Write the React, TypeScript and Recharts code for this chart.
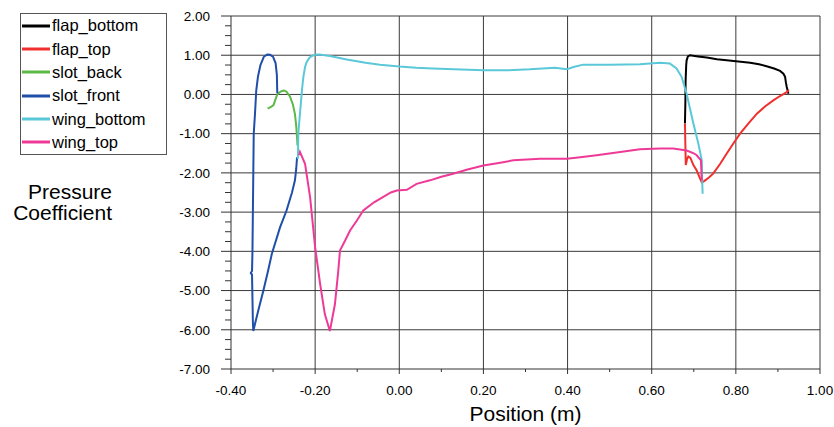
import React from 'react';
import { LineChart, Line, XAxis, YAxis, CartesianGrid, Legend } from 'recharts';

// ---- Axis ticks ----
const xMajorTicks = [-0.4, -0.2, 0, 0.2, 0.4, 0.6, 0.8, 1.0];
const xMinorTicks = [-0.3, -0.1, 0.1, 0.3, 0.5, 0.7, 0.9];
const yMajorTicks = [-7, -6, -5, -4, -3, -2, -1, 0, 1, 2];
const yMinorTicks = yMajorTicks.slice(0, -1).flatMap((v) => [v + 0.25, v + 0.5, v + 0.75]);
const xGridValues = [-0.2, 0, 0.2, 0.4, 0.6, 0.8, 1.0];
const yGridValues = [-6, -5, -4, -3, -2, -1, 0, 1, 2];

// ---- Series data: [position (m), pressure coefficient] ----
const flapBottom: [number, number][] = [
  [0.679, -0.74], [0.68, -0.2], [0.6806, 0.36], [0.682, 0.75], [0.683, 0.87], [0.686, 0.97],
  [0.691, 1.0], [0.71, 0.97], [0.731, 0.94], [0.755, 0.9], [0.778, 0.87], [0.806, 0.84],
  [0.834, 0.81], [0.855, 0.77], [0.873, 0.72], [0.891, 0.66], [0.905, 0.6], [0.913, 0.53],
  [0.917, 0.45], [0.919, 0.3], [0.921, 0.19], [0.925, 0.02],
];
const flapTop: [number, number][] = [
  [0.679, -0.74], [0.68, -1.3], [0.681, -1.8], [0.684, -1.65], [0.687, -1.58], [0.692, -1.62],
  [0.699, -1.8], [0.707, -1.94], [0.714, -2.12], [0.719, -2.24], [0.723, -2.22], [0.727, -2.19],
  [0.736, -2.12], [0.746, -2.02], [0.762, -1.78], [0.778, -1.51], [0.794, -1.25], [0.81, -1.0],
  [0.83, -0.74], [0.85, -0.49], [0.87, -0.3], [0.889, -0.15], [0.905, -0.04], [0.921, 0.06],
  [0.926, 0.11],
];
const slotBack: [number, number][] = [
  [-0.313, -0.36], [-0.305, -0.32], [-0.299, -0.27], [-0.294, -0.12], [-0.29, 0.0],
  [-0.285, 0.05], [-0.279, 0.09], [-0.274, 0.1], [-0.268, 0.07], [-0.26, -0.05],
  [-0.253, -0.25], [-0.248, -0.5], [-0.245, -0.8], [-0.243, -1.1], [-0.242, -1.3],
];
const slotFront: [number, number][] = [
  [-0.29, 0.03], [-0.291, 0.5], [-0.294, 0.8], [-0.3, 0.96], [-0.307, 1.01], [-0.314, 1.02],
  [-0.322, 0.96], [-0.33, 0.75], [-0.336, 0.45], [-0.34, 0.1], [-0.343, -0.5], [-0.346, -1.0],
  [-0.347, -2.0], [-0.348, -3.0], [-0.349, -4.0], [-0.35, -4.5], [-0.353, -4.55], [-0.35, -4.6],
  [-0.349, -5.2], [-0.348, -5.8], [-0.347, -6.03], [-0.343, -5.85], [-0.335, -5.5],
  [-0.323, -5.0], [-0.312, -4.5], [-0.303, -4.07], [-0.2835, -3.39], [-0.268, -2.96],
  [-0.255, -2.5], [-0.248, -2.19], [-0.245, -1.9], [-0.243, -1.6],
];
const wingBottom: [number, number][] = [
  [-0.241, -1.64], [-0.24, -1.0], [-0.237, -0.6], [-0.234, -0.23], [-0.231, 0.15], [-0.228, 0.45],
  [-0.224, 0.7], [-0.22, 0.83], [-0.214, 0.93], [-0.208, 0.98], [-0.2, 1.01], [-0.19, 1.02],
  [-0.165, 0.98], [-0.125, 0.89], [-0.08, 0.81], [-0.046, 0.76], [0.0, 0.71], [0.04, 0.68],
  [0.08, 0.66], [0.13, 0.64], [0.2, 0.62], [0.26, 0.62], [0.31, 0.64], [0.37, 0.68],
  [0.398, 0.64], [0.414, 0.7], [0.437, 0.76], [0.5, 0.76], [0.572, 0.77], [0.62, 0.81],
  [0.643, 0.79], [0.659, 0.66], [0.671, 0.45], [0.683, 0.02], [0.699, -0.74], [0.711, -1.26],
  [0.719, -1.68], [0.72, -2.2], [0.721, -2.53],
];
const wingTop: [number, number][] = [
  [-0.238, -1.55], [-0.236, -1.47], [-0.224, -1.77], [-0.212, -2.62], [-0.2, -3.9],
  [-0.188, -4.84], [-0.177, -5.6], [-0.165, -6.03], [-0.153, -5.35], [-0.145, -4.5],
  [-0.141, -3.98], [-0.129, -3.73], [-0.117, -3.47], [-0.1, -3.2], [-0.0855, -2.96],
  [-0.06, -2.75], [-0.046, -2.66], [-0.02, -2.5], [-0.006, -2.45], [0.018, -2.43],
  [0.041, -2.28], [0.073, -2.19], [0.1, -2.1], [0.128, -2.02], [0.16, -1.92], [0.2, -1.81],
  [0.24, -1.74], [0.271, -1.68], [0.335, -1.64], [0.398, -1.64], [0.43, -1.6], [0.469, -1.55],
  [0.525, -1.47], [0.572, -1.4], [0.62, -1.38], [0.651, -1.38], [0.683, -1.43], [0.7, -1.5],
  [0.707, -1.55], [0.717, -1.68], [0.719, -2.19],
];

const seriesNames = ['flap_bottom', 'flap_top', 'slot_back', 'slot_front', 'wing_bottom', 'wing_top'];
const seriesColors = ['#000000', '#f0302e', '#5cb946', '#1f4fa8', '#5ac8d8', '#ee3a96'];
const seriesData = [flapBottom, flapTop, slotBack, slotFront, wingBottom, wingTop];

const FONT = '"Liberation Sans", Arial, Helvetica, sans-serif';
const AXIS_COLOR = '#333';

const isMajor = (list: number[], v: number) => list.some((m) => Math.abs(m - v) < 1e-9);

const XTick = (props: any) => {
  const { x, y, payload } = props;
  const v = payload.value as number;
  const major = isMajor(xMajorTicks, v);
  return (
    <g>
      <line x1={x} x2={x} y1={y} y2={y + (major ? 5 : 3)} stroke={AXIS_COLOR} strokeWidth={1} />
      {major && (
        <text x={x} y={y + 21} dy="0.35em" textAnchor="middle" fontFamily={FONT} fontSize={13.5} fill="#000">
          {v.toFixed(2)}
        </text>
      )}
    </g>
  );
};

const YTick = (props: any) => {
  const { x, y, payload } = props;
  const v = payload.value as number;
  const major = isMajor(yMajorTicks, v);
  return (
    <g>
      <line x1={x - (major ? 10 : 6)} x2={x} y1={y} y2={y} stroke={AXIS_COLOR} strokeWidth={1} />
      {major && (
        <text x={x - 21} y={y} dy="0.35em" textAnchor="end" fontFamily={FONT} fontSize={13.5} fill="#000">
          {v.toFixed(2)}
        </text>
      )}
    </g>
  );
};

const renderLegend = (props: any) => {
  const payload = props.payload || [];
  return (
    <div
      style={{
        width: 145,
        height: 140,
        border: '1px solid #555',
        background: '#fff',
        fontFamily: FONT,
        fontSize: 16.5,
        color: '#000',
      }}
    >
      {payload.map((p: any) => (
        <div key={p.value} style={{ height: 23.3, display: 'flex', alignItems: 'center' }}>
          <svg width={31} height={6} style={{ display: 'block' }}>
            <line x1={1} x2={29} y1={3} y2={3} stroke={p.color} strokeWidth={3} />
          </svg>
          <span style={{ lineHeight: 1, whiteSpace: 'nowrap' }}>{p.value}</span>
        </div>
      ))}
    </div>
  );
};

export default function App() {
  return (
    <div style={{ position: 'absolute', left: 0, top: 0, width: 834, height: 427, background: '#fff' }}>
      <LineChart width={834} height={427} margin={{ top: 16, right: 14, left: 0, bottom: 28 }}>
        <CartesianGrid
          stroke="#3a3a3a"
          strokeWidth={1}
          horizontalValues={yGridValues}
          verticalValues={xGridValues}
          syncWithTicks={false}
        />
        <XAxis
          type="number"
          dataKey="x"
          domain={[-0.4, 1.0]}
          ticks={[...xMajorTicks, ...xMinorTicks].sort((a, b) => a - b)}
          interval={0}
          tickSize={0}
          tickMargin={0}
          tickLine={false}
          tick={<XTick />}
          axisLine={{ stroke: AXIS_COLOR, strokeWidth: 1 }}
          height={30}
          allowDataOverflow
        />
        <YAxis
          type="number"
          dataKey="y"
          domain={[-7, 2]}
          ticks={[...yMajorTicks, ...yMinorTicks].sort((a, b) => a - b)}
          interval={0}
          tickSize={0}
          tickMargin={0}
          tickLine={false}
          tick={<YTick />}
          axisLine={{ stroke: AXIS_COLOR, strokeWidth: 1 }}
          width={231}
          allowDataOverflow
        />
        <Legend
          layout="vertical"
          align="center"
          verticalAlign="middle"
          content={renderLegend}
          wrapperStyle={{ left: 20, top: 13 }}
        />
        {seriesNames.map((name, i) => (
          <Line
            key={name}
            name={name}
            data={seriesData[i].map(([x, y]) => ({ x, y }))}
            dataKey="y"
            type="linear"
            stroke={seriesColors[i]}
            strokeWidth={2}
            dot={false}
            activeDot={false}
            isAnimationActive={false}
          />
        ))}
      </LineChart>
      <svg
        width={834}
        height={427}
        style={{ position: 'absolute', left: 0, top: 0, pointerEvents: 'none' }}
      >
        <text textAnchor="end" fontFamily={FONT} fontSize={21} fill="#000">
          <tspan x={112} y={199}>Pressure</tspan>
          <tspan x={112} y={220}>Coefficient</tspan>
        </text>
        <text x={525.5} y={421} textAnchor="middle" fontFamily={FONT} fontSize={21} fill="#000">
          Position (m)
        </text>
      </svg>
    </div>
  );
}
